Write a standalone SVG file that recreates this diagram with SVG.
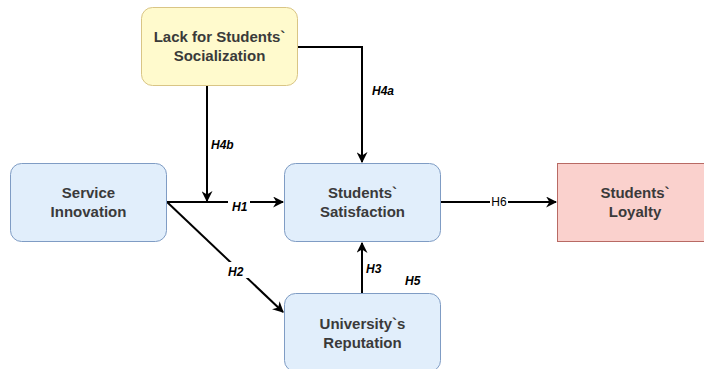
<svg xmlns="http://www.w3.org/2000/svg" width="704" height="369" viewBox="0 0 704 369">
<defs>
<marker id="arr" viewBox="0 0 10 10" refX="9" refY="5" markerWidth="11" markerHeight="11" markerUnits="userSpaceOnUse" orient="auto">
<path d="M0,0 L10,5 L0,10 L3,5 Z" fill="#000"/>
</marker>
<style>
.node text{font-family:"Liberation Sans",Arial,sans-serif;font-size:15px;font-weight:bold;fill:#3a3a3a;text-anchor:middle}
.blue{fill:#e1eefb;stroke:#7f9cc4;stroke-width:1}
.yellow{fill:#fffacd;stroke:#d9c585;stroke-width:1}
.red{fill:#fad1cd;stroke:#b86a64;stroke-width:1}
.edge{fill:none;stroke:#000;stroke-width:2;marker-end:url(#arr)}
.lbl{font-family:"Liberation Sans",Arial,sans-serif;font-size:12px;font-weight:bold;font-style:italic;fill:#000}
.lbl2{font-family:"Liberation Sans",Arial,sans-serif;font-size:12px;fill:#000;text-anchor:middle}
</style>
</defs>
<rect width="704" height="369" fill="#fff"/>
<g id="connectors">
<path class="edge" d="M298,47 H362 V162"/>
<path class="edge" d="M207,85 V201"/>
<path class="edge" d="M167,202 H283"/>
<path class="edge" d="M167,202 L283,312"/>
<path class="edge" d="M362,293 V243"/>
<path d="M441,202 H490 M508,202 H530" stroke="#000" stroke-width="2" fill="none"/>
<path class="edge" d="M520,202 H556"/>
<rect x="228" y="196" width="22" height="14" fill="#fff"/>
<text class="lbl" x="232" y="211">H1</text>
<rect x="225" y="262" width="24" height="16" fill="#fff"/>
<text class="lbl" x="228" y="276">H2</text>
<text class="lbl" x="366" y="273">H3</text>
<text class="lbl" x="372" y="95">H4a</text>
<text class="lbl" x="211" y="149">H4b</text>
<text class="lbl" x="405" y="285">H5</text>
<text class="lbl2" x="499" y="206">H6</text>
</g>
<g id="lack" class="node">
<rect class="yellow" x="141.5" y="7.5" width="156" height="78" rx="11"/>
<text x="219.5" y="42">Lack for Students`</text>
<text x="219.5" y="61">Socialization</text>
</g>
<g id="service" class="node">
<rect class="blue" x="10.5" y="163.5" width="156" height="78" rx="11"/>
<text x="88.5" y="198">Service</text>
<text x="88.5" y="217">Innovation</text>
</g>
<g id="satisfaction" class="node">
<rect class="blue" x="284.5" y="163.5" width="156" height="78" rx="11"/>
<text x="362.5" y="198">Students`</text>
<text x="362.5" y="217">Satisfaction</text>
</g>
<g id="loyalty" class="node">
<rect class="red" x="557.5" y="163.5" width="156" height="78"/>
<text x="635" y="198">Students`</text>
<text x="635" y="217">Loyalty</text>
</g>
<g id="reputation" class="node">
<rect class="blue" x="284.5" y="293.5" width="156" height="78" rx="11"/>
<text x="362.5" y="329">University`s</text>
<text x="362.5" y="348">Reputation</text>
</g>
</svg>
